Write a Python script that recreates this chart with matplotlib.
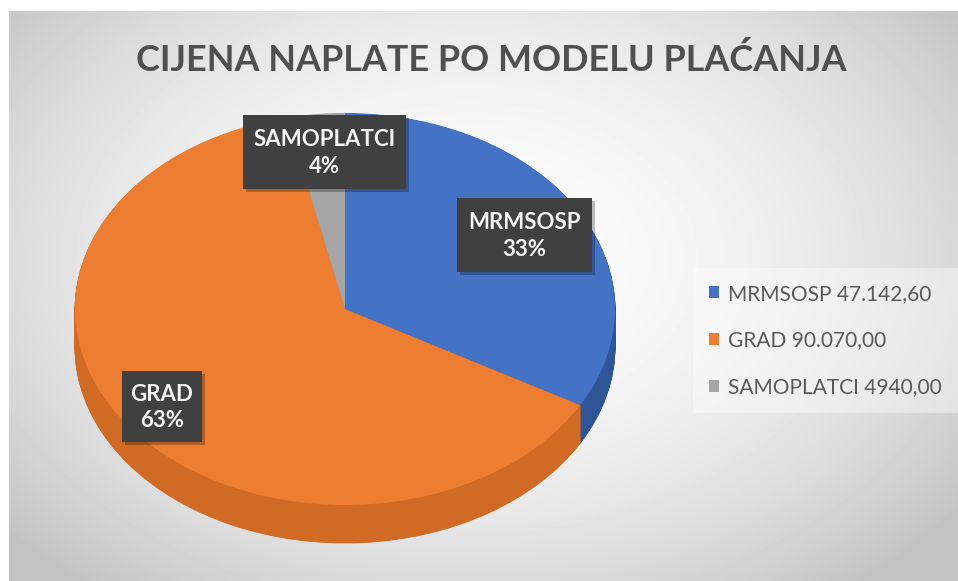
import numpy as np
import matplotlib
matplotlib.use("Agg")
import matplotlib.pyplot as plt
import matplotlib.patches as patches

# data
categories = ["MRMSOSP", "GRAD", "SAMOPLATCI"]
values = [47142.60, 90070.00, 4940.00]
legend_labels = ["MRMSOSP 47.142,60", "GRAD 90.070,00", "SAMOPLATCI 4940,00"]
pct_labels = ["33%", "63%", "4%"]

top_colors = ["#4472C4", "#ED7D31", "#A5A5A5"]
side_colors = ["#2F5597", "#D06A24", "#8A8A8A"]

W, H = 958, 581
FONT = ["Lato", "DejaVu Sans"]
plt.rcParams["font.family"] = FONT

fig = plt.figure(figsize=(W / 100, H / 100), dpi=100)
fig.patch.set_facecolor("white")

# background: radial gradient, chart area starts a few pixels in
bg_left, bg_top = 9, 11
ax_bg = fig.add_axes([bg_left / W, 0, 1 - bg_left / W, 1 - bg_top / H])
yy, xx = np.mgrid[bg_top:H, bg_left:W]
d = np.sqrt(((xx - 470) / 520.0) ** 2 + ((yy - 260) / 360.0) ** 2) / 1.16
d = np.clip(d, 0, 1)
shade = (252 - 56 * d ** 2) / 255.0
ax_bg.imshow(shade, cmap="gray", vmin=0, vmax=1, aspect="auto", interpolation="bilinear")
ax_bg.axis("off")

# pie axes, in pixels: center (345, 309), rx 270, ry 196
cx, cy, rx, ry = 345, 309, 270, 196
xl, yt, yb = 1.25, 1.2, 1.35
px_left = cx - xl * rx
px_top = cy - yt * ry
px_bot = cy + yb * ry
ax = fig.add_axes([px_left / W, (H - px_bot) / H, 2 * xl * rx / W, (px_bot - px_top) / H])
ax.patch.set_alpha(0)

# stack darker copies downwards to fake the 3D side
depth = 38 / ry
for off in np.linspace(depth, 0, 45)[:-1]:
    ax.pie(values, colors=side_colors, startangle=90, counterclock=False,
           center=(0, -off), wedgeprops=dict(linewidth=0.6))
for w in ax.patches:
    w.set_edgecolor(w.get_facecolor())
ax.pie(values, colors=top_colors, startangle=90, counterclock=False,
       wedgeprops=dict(linewidth=0))
ax.set_aspect("auto")
ax.set_xlim(-xl, xl)
ax.set_ylim(-yb, yt)
ax.axis("off")

# overlay axes in pixel coords for labels, legend, title
ov = fig.add_axes([0, 0, 1, 1])
ov.set_xlim(0, W)
ov.set_ylim(H, 0)
ov.axis("off")
ov.patch.set_alpha(0)

ov.text(491, 60, "CIJENA NAPLATE PO MODELU PLAĆANJA", ha="center", va="center",
        fontsize=25.9, fontweight="bold", color="#505050")

# data label boxes (x0, y0, x1, y1)
label_boxes = [(457, 198, 592, 272), (122, 371, 202, 442), (243, 115, 406, 189)]
for name, pct, (x0, y0, x1, y1) in zip(categories, pct_labels, label_boxes):
    ov.add_patch(patches.Rectangle((x0 + 3, y0 + 3), x1 - x0, y1 - y0,
                                   facecolor="black", alpha=0.25, linewidth=0))
    ov.add_patch(patches.Rectangle((x0, y0), x1 - x0, y1 - y0,
                                   facecolor="#404040", linewidth=0))
    ov.text((x0 + x1) / 2, (y0 + y1) / 2 + 1, f"{name}\n{pct}", ha="center", va="center",
            fontsize=16, fontweight="bold", color="#f4f4f4", linespacing=1.35)

# legend
handles = [patches.Rectangle((0, 0), 1, 1, facecolor=c, linewidth=0) for c in top_colors]
leg = ov.legend(handles, legend_labels, loc="upper left",
                bbox_to_anchor=(693, 268), bbox_transform=ov.transData,
                fontsize=15, frameon=True, fancybox=False,
                handlelength=0.5, handleheight=0.5, handletextpad=0.45,
                labelspacing=1.28, borderpad=0.75, borderaxespad=0)
leg.get_frame().set_facecolor("white")
leg.get_frame().set_alpha(0.4)
leg.get_frame().set_linewidth(0)
for t in leg.get_texts():
    t.set_color("#595959")

fig.savefig("out.png", dpi=100)
